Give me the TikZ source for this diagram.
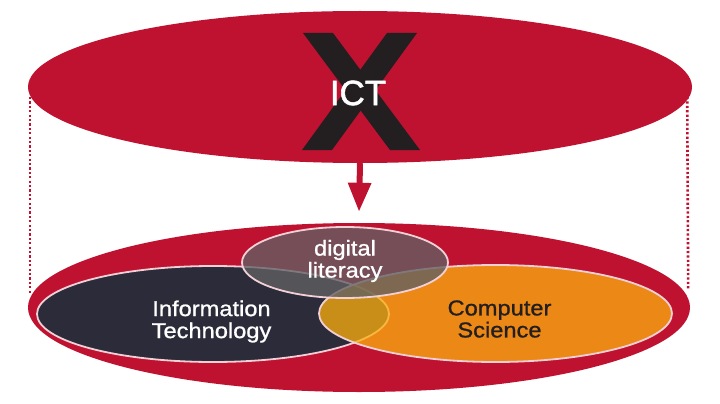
\documentclass[tikz,border=0pt]{standalone}
\usepackage{fontspec}
\newfontfamily\labelfont{Liberation Sans}[FakeStretch=1.1,FakeBold=1]
\newfontfamily\ictfont{Liberation Sans}[FakeBold=1.6]
\usetikzlibrary{shapes.geometric,arrows.meta,positioning}
\definecolor{ictred}{RGB}{190,18,48}
\definecolor{xdark}{RGB}{35,31,32}
\definecolor{itdark}{RGB}{43,43,58}
\definecolor{csorange}{RGB}{251,175,14}
\definecolor{dlgrey}{RGB}{97,96,99}
\definecolor{rimpink}{RGB}{242,208,214}

\begin{document}
\begin{tikzpicture}[x=1pt,y=-1pt,
  disc/.style={ellipse,fill=ictred,inner sep=0pt},
  field/.style={ellipse,inner sep=0pt,draw=rimpink,line width=1.8pt},
  fieldtext/.style={font=\labelfont\fontsize{21.5}{22}\selectfont,align=center,inner sep=0pt},
  ictarrow/.style={ictred,line width=6pt,-{Triangle[length=29pt,width=22pt]}},
  dotline/.style={ictred,line width=2.6pt,dash pattern=on 2.2pt off 2.2pt}]
\useasboundingbox (0,0) rectangle (720,404);
%-------->discs<--------------
\node[disc,minimum width=664pt,minimum height=152pt] (ict) at (360,87) {};
\node[disc,minimum width=662pt,minimum height=169pt] (base) at (359,307.5) {};
%-------->the X<--------------
\fill[xdark] (303,33) -- (333,33) -- (420,150) -- (390,150) -- cycle;
\fill[xdark] (387,33) -- (417,33) -- (332,150) -- (302,150) -- cycle;
\node[text=white,font=\ictfont\fontsize{35}{35}\selectfont,inner sep=0pt] (ictlabel) at (358,93) {ICT};
%-------->fields<--------------
\node[field,fill=itdark,minimum width=352pt,minimum height=96pt] (it) at (213,314) {};
\node[field,fill=csorange,fill opacity=0.755,minimum width=353pt,minimum height=97pt] (cs) at (495.5,313.5) {};
\node[field,fill=dlgrey,fill opacity=0.78,minimum width=206pt,minimum height=71pt] (dl) at (345,262.5) {};
%-------->labels<--------------
\node[fieldtext,text=white] (ittext) at (211.5,321.5) {Information\\Technology};
\node[fieldtext,text=xdark] (cstext) at (499.5,319) {Computer\\Science};
\node[fieldtext,text=white] (dltext) at (345,261) {digital\\literacy};
%-------->arrow and dotted sides<--------------
\draw[ictarrow] (ict.south) -- ([yshift=11pt]base.north);
\draw[dotline] ([xshift=2pt,yshift=-10pt]ict.west) -- ([xshift=2pt,yshift=14pt]base.west);
\draw[dotline] ([xshift=-5pt,yshift=-10pt]ict.east) -- ([xshift=-2pt,yshift=17pt]base.east);
\end{tikzpicture}
\end{document}
